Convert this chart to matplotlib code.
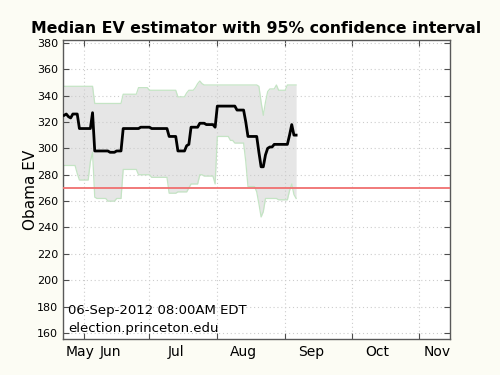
import matplotlib
matplotlib.use('Agg')
import matplotlib.pyplot as plt
import numpy as np

# day of year 2012, one value per day
days = np.arange(132, 239)

median_ev = [
    325, 326, 324, 323, 326, 326, 326, 315, 315, 315,
    315, 315, 315, 327, 298, 298, 298, 298, 298, 298,
    298, 297, 297, 297, 298, 298, 298, 315, 315, 315,
    315, 315, 315, 315, 315, 316, 316, 316, 316, 316,
    315, 315, 315, 315, 315, 315, 315, 315, 309, 309,
    309, 309, 298, 298, 298, 298, 302, 303, 316, 316,
    316, 316, 319, 319, 319, 318, 318, 318, 318, 316,
    332, 332, 332, 332, 332, 332, 332, 332, 332, 329,
    329, 329, 329, 320, 309, 309, 309, 309, 309, 297,
    286, 286, 295, 300, 301, 301, 303, 303, 303, 303,
    303, 303, 303, 310, 318, 310, 310,
]

upper_ev = [
    347, 347, 347, 347, 347, 347, 347, 347, 347, 347,
    347, 347, 347, 347, 334, 334, 334, 334, 334, 334,
    334, 334, 334, 334, 334, 334, 334, 341, 341, 341,
    341, 341, 341, 341, 346, 346, 346, 346, 346, 344,
    344, 344, 344, 344, 344, 344, 344, 344, 344, 344,
    344, 344, 339, 339, 339, 339, 342, 344, 344, 344,
    346, 349, 351, 349, 348, 348, 348, 348, 348, 348,
    348, 348, 348, 348, 348, 348, 348, 348, 348, 348,
    348, 348, 348, 348, 348, 348, 348, 348, 348, 347,
    335, 325, 335, 343, 345, 345, 345, 348, 344, 344,
    344, 344, 348, 348, 348, 348, 348,
]

lower_ev = [
    287, 287, 287, 287, 287, 287, 281, 276, 276, 276,
    276, 276, 290, 297, 263, 262, 262, 262, 262, 262,
    260, 260, 260, 260, 262, 262, 262, 284, 284, 284,
    284, 284, 284, 284, 280, 280, 280, 280, 280, 280,
    278, 278, 278, 278, 278, 278, 278, 278, 266, 266,
    266, 266, 267, 267, 267, 267, 267, 270, 273, 273,
    273, 273, 280, 280, 279, 279, 279, 279, 279, 273,
    309, 309, 309, 309, 309, 309, 306, 306, 304, 304,
    304, 304, 304, 290, 271, 271, 271, 271, 267, 258,
    248, 252, 262, 262, 262, 262, 262, 262, 261, 261,
    261, 261, 261, 268, 273, 265, 262,
]

win_threshold = 270

grid_days = [141, 171, 202, 233, 263.5, 294]
label_days = [139.3, 153, 183, 214, 245, 275, 302.4]
month_labels = ['May', 'Jun', 'Jul', 'Aug', 'Sep', 'Oct', 'Nov']

fig = plt.figure(figsize=(5, 3.75), dpi=100, facecolor='#fcfcf4')
ax = fig.add_axes([0.126, 0.096, 0.774, 0.797])

ax.fill_between(days, lower_ev, upper_ev, color='#e6e6e6', lw=0, zorder=1)
ax.plot(days, upper_ev, color='#c4e4c4', lw=0.9, zorder=2)
ax.plot(days, lower_ev, color='#c4e4c4', lw=0.9, zorder=2)
ax.axhline(win_threshold, color='#f07070', lw=1.3, zorder=3)
ax.plot(days, median_ev, color='black', lw=2, zorder=4)

ax.set_xlim(131.5, 308.3)
ax.set_ylim(155.5, 382)
ax.set_yticks(np.arange(160, 381, 20))
ax.set_xticks(grid_days)
ax.set_xticklabels([''] * len(grid_days))
ax.set_xticks(label_days, minor=True)
ax.set_xticklabels(month_labels, minor=True, fontsize=10)
ax.tick_params(axis='x', which='minor', length=0, pad=4)
ax.tick_params(which='major', direction='in', length=4, top=True, right=True,
               labelsize=8, color='0.3')
ax.grid(True, which='major', linestyle=(0, (1, 2.5)), color='#cccccc', lw=0.8)
for s in ax.spines.values():
    s.set_color('0.35')
    s.set_linewidth(1)

ax.set_ylabel('Obama EV', fontsize=11, labelpad=-1)
ax.set_title('Median EV estimator with 95% confidence interval',
             fontsize=11.3, fontweight='bold', pad=5)

ax.text(0.013, 0.075, '06-Sep-2012 08:00AM EDT', transform=ax.transAxes,
        fontsize=9.5, va='bottom', ha='left')
ax.text(0.013, 0.015, 'election.princeton.edu', transform=ax.transAxes,
        fontsize=9.5, va='bottom', ha='left')

fig.savefig('out.png', dpi=100, facecolor=fig.get_facecolor())
